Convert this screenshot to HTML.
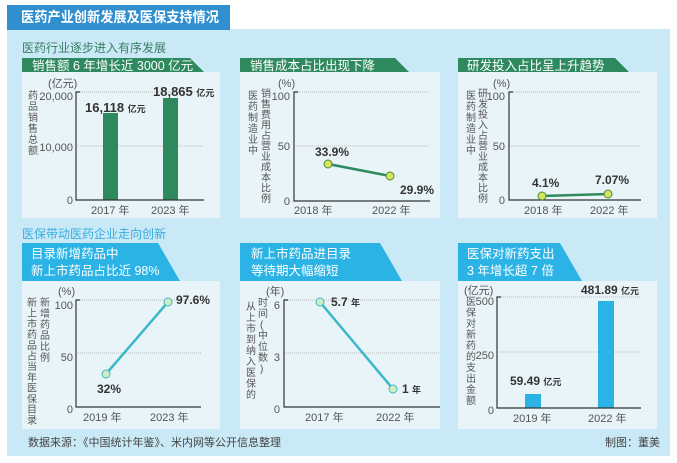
<!DOCTYPE html><html><head><meta charset="utf-8"><style>body{margin:0;background:#fff}svg{display:block}text{font-family:"Liberation Sans","Noto Sans CJK SC",sans-serif}</style></head><body>
<svg width="677" height="463" viewBox="0 0 677 463" xmlns="http://www.w3.org/2000/svg">
<rect x="7" y="29" width="663" height="427" fill="#c9e9f6"/>
<rect x="7" y="5" width="223" height="25" fill="#2f8fcf"/>
<text x="21" y="22" font-size="14" fill="#fff" font-weight="bold" textLength="198" lengthAdjust="spacingAndGlyphs">医药产业创新发展及医保支持情况</text>
<text x="22" y="52" font-size="12" fill="#3a7d64">医药行业逐步进入有序发展</text>
<text x="22" y="238" font-size="12" fill="#39ade0">医保带动医药企业走向创新</text>
<polygon points="22,58 190,58 204,72 22,72" fill="#2e8a5e"/>
<text x="32" y="70" font-size="12.5" fill="#fff">销售额 6 年增长近 3000 亿元</text>
<polygon points="240,58 395,58 409,72 240,72" fill="#2e8a5e"/>
<text x="250" y="70" font-size="12.5" fill="#fff">销售成本占比出现下降</text>
<polygon points="458,58 615,58 629,72 458,72" fill="#2e8a5e"/>
<text x="467" y="70" font-size="12.5" fill="#fff">研发投入占比呈上升趋势</text>
<rect x="22" y="72" width="198" height="146" fill="#e9f4f8"/>
<rect x="240" y="72" width="200" height="146" fill="#e9f4f8"/>
<rect x="458" y="72" width="199" height="146" fill="#e9f4f8"/>
<polygon points="22,243 158,243 180,281 22,281" fill="#2bb3e5"/>
<text x="31" y="258" font-size="12.5" fill="#fff">目录新增药品中</text>
<text x="31" y="275" font-size="12.5" fill="#fff">新上市药品占比近 98%</text>
<polygon points="240,243 380,243 402,281 240,281" fill="#2bb3e5"/>
<text x="251" y="258" font-size="12.5" fill="#fff">新上市药品进目录</text>
<text x="251" y="275" font-size="12.5" fill="#fff">等待期大幅缩短</text>
<polygon points="458,243 560,243 582,281 458,281" fill="#2bb3e5"/>
<text x="467" y="258" font-size="12.5" fill="#fff">医保对新药支出</text>
<text x="467" y="275" font-size="12.5" fill="#fff">3 年增长超 7 倍</text>
<rect x="22" y="281" width="198" height="148" fill="#e9f4f8"/>
<rect x="240" y="281" width="200" height="148" fill="#e9f4f8"/>
<rect x="458" y="281" width="199" height="148" fill="#e9f4f8"/>
<g font-size="11" fill="#555">
<text x="48" y="87">(亿元)</text>
<line x1="76" y1="146" x2="204" y2="146" stroke="#bbb" stroke-dasharray="1,1"/>
<line x1="76" y1="92" x2="204" y2="92" stroke="#bbb" stroke-dasharray="1,1"/>
<rect x="103" y="113" width="15" height="87" fill="#2e8a5e"/>
<rect x="163" y="98" width="15" height="102" fill="#2e8a5e"/>
<path d="M80,92H76V200H204" fill="none" stroke="#333" stroke-width="1.2"/>
<text x="73" y="100" text-anchor="end">20,000</text>
<text x="73" y="151" text-anchor="end">10,000</text>
<text x="73" y="204" text-anchor="end">0</text>
<text x="91" y="214">2017 年</text><text x="151" y="214">2023 年</text>
<text x="85" y="112" font-weight="bold" fill="#333" font-size="13">16,118 <tspan font-size="9">亿元</tspan></text>
<text x="153" y="96" font-weight="bold" fill="#333" font-size="13">18,865 <tspan font-size="9">亿元</tspan></text>
<text font-size="10"><tspan x="28" y="99">药</tspan><tspan x="28" dy="11">品</tspan><tspan x="28" dy="11">销</tspan><tspan x="28" dy="11">售</tspan><tspan x="28" dy="11">总</tspan><tspan x="28" dy="11">额</tspan></text>
<text x="278" y="87">(%)</text>
<line x1="294" y1="146" x2="430" y2="146" stroke="#bbb" stroke-dasharray="1,1"/>
<line x1="294" y1="92" x2="430" y2="92" stroke="#bbb" stroke-dasharray="1,1"/>
<path d="M298,92H294V201H430" fill="none" stroke="#333" stroke-width="1.2"/>
<text x="290" y="100" text-anchor="end">100</text><text x="290" y="150" text-anchor="end">50</text><text x="290" y="205" text-anchor="end">0</text>
<text x="294" y="214">2018 年</text><text x="372" y="214">2022 年</text>
<line x1="328" y1="164" x2="390" y2="176" stroke="#2e8a5e" stroke-width="2.5"/>
<circle cx="328" cy="164" r="4" fill="#d7e35a" stroke="#4a8a40"/><circle cx="390" cy="176" r="4" fill="#d7e35a" stroke="#4a8a40"/>
<text x="315" y="156" font-weight="bold" fill="#333" font-size="12">33.9%</text>
<text x="400" y="194" font-weight="bold" fill="#333" font-size="12">29.9%</text>
<text font-size="10"><tspan x="248" y="99">医</tspan><tspan x="248" dy="11">药</tspan><tspan x="248" dy="11">制</tspan><tspan x="248" dy="11">造</tspan><tspan x="248" dy="11">业</tspan><tspan x="248" dy="11">中</tspan></text>
<text font-size="10"><tspan x="261" y="97">销</tspan><tspan x="261" dy="10.5">售</tspan><tspan x="261" dy="10.5">费</tspan><tspan x="261" dy="10.5">用</tspan><tspan x="261" dy="10.5">占</tspan><tspan x="261" dy="10.5">营</tspan><tspan x="261" dy="10.5">业</tspan><tspan x="261" dy="10.5">成</tspan><tspan x="261" dy="10.5">本</tspan><tspan x="261" dy="10.5">比</tspan><tspan x="261" dy="10.5">例</tspan></text>
<text x="493" y="87">(%)</text>
<line x1="509" y1="92" x2="640" y2="92" stroke="#bbb" stroke-dasharray="1,1"/>
<line x1="509" y1="146" x2="640" y2="146" stroke="#bbb" stroke-dasharray="1,1"/>
<path d="M513,92H509V200H641" fill="none" stroke="#333" stroke-width="1.2"/>
<text x="505" y="100" text-anchor="end">100</text><text x="505" y="150" text-anchor="end">50</text><text x="505" y="204" text-anchor="end">0</text>
<text x="524" y="214">2018 年</text><text x="590" y="214">2022 年</text>
<line x1="542" y1="196" x2="608" y2="194" stroke="#2e8a5e" stroke-width="2.5"/>
<circle cx="542" cy="196" r="4" fill="#d7e35a" stroke="#4a8a40"/><circle cx="608" cy="194" r="4" fill="#d7e35a" stroke="#4a8a40"/>
<text x="532" y="187" font-weight="bold" fill="#333" font-size="12">4.1%</text>
<text x="595" y="184" font-weight="bold" fill="#333" font-size="12">7.07%</text>
<text font-size="10"><tspan x="466" y="99">医</tspan><tspan x="466" dy="11">药</tspan><tspan x="466" dy="11">制</tspan><tspan x="466" dy="11">造</tspan><tspan x="466" dy="11">业</tspan><tspan x="466" dy="11">中</tspan></text>
<text font-size="10"><tspan x="478" y="97">研</tspan><tspan x="478" dy="10.5">发</tspan><tspan x="478" dy="10.5">投</tspan><tspan x="478" dy="10.5">入</tspan><tspan x="478" dy="10.5">占</tspan><tspan x="478" dy="10.5">营</tspan><tspan x="478" dy="10.5">业</tspan><tspan x="478" dy="10.5">成</tspan><tspan x="478" dy="10.5">本</tspan><tspan x="478" dy="10.5">比</tspan><tspan x="478" dy="10.5">例</tspan></text>
<text x="58" y="295">(%)</text>
<line x1="76" y1="300" x2="201" y2="300" stroke="#bbb" stroke-dasharray="1,1"/>
<line x1="76" y1="353" x2="201" y2="353" stroke="#bbb" stroke-dasharray="1,1"/>
<path d="M80,300H76V407H201" fill="none" stroke="#333" stroke-width="1.2"/>
<text x="73" y="309" text-anchor="end">100</text><text x="73" y="361" text-anchor="end">50</text><text x="73" y="413" text-anchor="end">0</text>
<text x="83" y="421">2019 年</text><text x="150" y="421">2023 年</text>
<line x1="106" y1="374" x2="168" y2="302" stroke="#3ab7c9" stroke-width="2.5"/>
<circle cx="106" cy="374" r="4" fill="#cfeec0" stroke="#3ab7c9"/><circle cx="168" cy="302" r="4" fill="#cfeec0" stroke="#3ab7c9"/>
<text x="97" y="393" font-weight="bold" fill="#333" font-size="12">32%</text>
<text x="176" y="304" font-weight="bold" fill="#333" font-size="12">97.6%</text>
<text font-size="10"><tspan x="27" y="306">新</tspan><tspan x="27" dy="10.7">上</tspan><tspan x="27" dy="10.7">市</tspan><tspan x="27" dy="10.7">药</tspan><tspan x="27" dy="10.7">品</tspan><tspan x="27" dy="10.7">占</tspan><tspan x="27" dy="10.7">当</tspan><tspan x="27" dy="10.7">年</tspan><tspan x="27" dy="10.7">医</tspan><tspan x="27" dy="10.7">保</tspan><tspan x="27" dy="10.7">目</tspan><tspan x="27" dy="10.7">录</tspan></text>
<text font-size="10"><tspan x="40" y="306">新</tspan><tspan x="40" dy="11">增</tspan><tspan x="40" dy="11">药</tspan><tspan x="40" dy="11">品</tspan><tspan x="40" dy="11">比</tspan><tspan x="40" dy="11">例</tspan></text>
<text x="266" y="295">(年)</text>
<line x1="284" y1="300" x2="440" y2="300" stroke="#bbb" stroke-dasharray="1,1"/>
<line x1="284" y1="353" x2="440" y2="353" stroke="#bbb" stroke-dasharray="1,1"/>
<path d="M288,300H284V407H440" fill="none" stroke="#333" stroke-width="1.2"/>
<text x="280" y="309" text-anchor="end">6</text><text x="280" y="361" text-anchor="end">3</text><text x="280" y="413" text-anchor="end">0</text>
<text x="305" y="421">2017 年</text><text x="376" y="421">2022 年</text>
<line x1="320" y1="302" x2="393" y2="389" stroke="#3ab7c9" stroke-width="2.5"/>
<circle cx="320" cy="302" r="4" fill="#cfeec0" stroke="#3ab7c9"/><circle cx="393" cy="389" r="4" fill="#cfeec0" stroke="#3ab7c9"/>
<text x="331" y="306" font-weight="bold" fill="#333" font-size="12">5.7 <tspan font-size="9">年</tspan></text>
<text x="402" y="393" font-weight="bold" fill="#333" font-size="12">1 <tspan font-size="9">年</tspan></text>
<text font-size="10"><tspan x="246" y="310">从</tspan><tspan x="246" dy="11">上</tspan><tspan x="246" dy="11">市</tspan><tspan x="246" dy="11">到</tspan><tspan x="246" dy="11">纳</tspan><tspan x="246" dy="11">入</tspan><tspan x="246" dy="11">医</tspan><tspan x="246" dy="11">保</tspan><tspan x="246" dy="11">的</tspan></text>
<text font-size="10"><tspan x="258" y="306">时</tspan><tspan x="258" dy="11">间</tspan><tspan x="260" dy="11">(</tspan><tspan x="258" dy="11">中</tspan><tspan x="258" dy="11">位</tspan><tspan x="258" dy="11">数</tspan><tspan x="260" dy="11">)</tspan></text>
<text x="464" y="294">(亿元)</text>
<line x1="497" y1="297" x2="640" y2="297" stroke="#bbb" stroke-dasharray="1,1"/>
<line x1="497" y1="352" x2="640" y2="352" stroke="#bbb" stroke-dasharray="1,1"/>
<rect x="525" y="394" width="16" height="14" fill="#2bb3e5"/>
<rect x="598" y="301" width="16" height="107" fill="#2bb3e5"/>
<path d="M501,297H497V408H641" fill="none" stroke="#333" stroke-width="1.2"/>
<text x="494" y="305" text-anchor="end">500</text><text x="494" y="359" text-anchor="end">250</text><text x="494" y="414" text-anchor="end">0</text>
<text x="513" y="422">2019 年</text><text x="588" y="422">2022 年</text>
<text x="510" y="385" font-weight="bold" fill="#333" font-size="12">59.49 <tspan font-size="9">亿元</tspan></text>
<text x="581" y="294" font-weight="bold" fill="#333" font-size="12">481.89 <tspan font-size="9">亿元</tspan></text>
<text font-size="10"><tspan x="466" y="305">医</tspan><tspan x="466" dy="11">保</tspan><tspan x="466" dy="11">对</tspan><tspan x="466" dy="11">新</tspan><tspan x="466" dy="11">药</tspan><tspan x="466" dy="11">的</tspan><tspan x="466" dy="11">支</tspan><tspan x="466" dy="11">出</tspan><tspan x="466" dy="11">金</tspan><tspan x="466" dy="11">额</tspan></text>
</g>
<text x="28" y="446" font-size="11" fill="#444">数据来源：《中国统计年鉴》、米内网等公开信息整理</text>
<text x="605" y="446" font-size="11" fill="#444">制图：董美</text>
</svg></body></html>
